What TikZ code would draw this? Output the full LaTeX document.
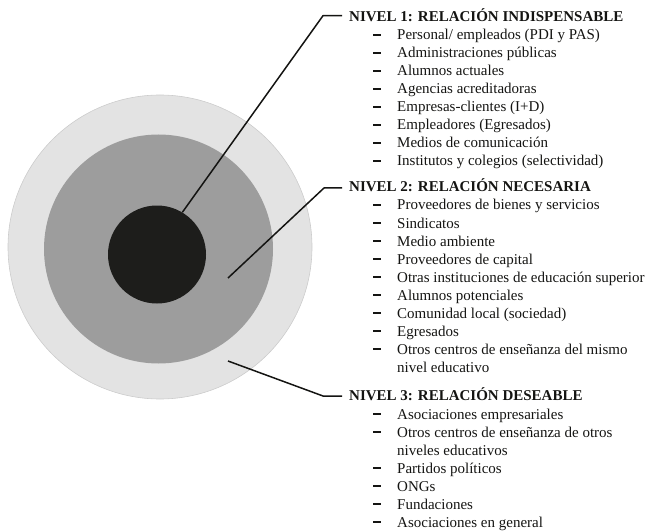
\documentclass[tikz,border=0pt]{standalone}
\usepackage{fontspec}
\setmainfont{Liberation Serif}
\definecolor{ringout}{RGB}{227,227,227}
\definecolor{ringmid}{RGB}{157,157,157}
\definecolor{ringin}{RGB}{29,29,27}
\definecolor{ink}{RGB}{20,20,18}
\tikzset{
  head/.style={anchor=base west,inner sep=0pt,font=\fontsize{15}{18}\selectfont\bfseries,text=ink},
  itemtext/.style={anchor=base west,inner sep=0pt,font=\fontsize{15}{18}\selectfont,text=ink},
  dashmark/.style={anchor=base west,inner sep=0pt,font=\fontsize{15}{18}\selectfont,text=ink},
  leader/.style={draw=ink,line width=1.5pt,line join=round},
  disc/.style={circle,inner sep=0pt,draw=none}
}
\newcommand{\itemdash}{\rule[4pt]{7.3pt}{2pt}}
\begin{document}
\begin{tikzpicture}[x=1pt,y=-1pt]
\useasboundingbox (0,0) rectangle (659,532);
% circles
\node[disc,fill=ringout,draw=black!20,line width=0.6pt,minimum size=304pt] (outer) at (160,247) {};
\node[disc,fill=ringmid,minimum size=229pt] (middle) at (158.5,249) {};
\node[disc,fill=ringin,minimum size=98pt] (inner) at (157,254.5) {};
% anchors of leaders
\coordinate (p2) at (228,278);
\coordinate (p3) at (228,361);
\coordinate (k1) at (323,15.7);
\coordinate (k2) at (324,188);
\coordinate (k3) at (323,396);
% headings
\node[head] (h1) at (349,21.3) {NIVEL 1: RELACIÓN INDISPENSABLE};
\node[head] (h2) at (349,192) {NIVEL 2: RELACIÓN NECESARIA};
\node[head] (h3) at (349,400.5) {NIVEL 3: RELACIÓN DESEABLE};
% leaders
\draw[leader] (inner.59) -- (k1) -- ([xshift=-7pt]h1.west |- k1);
\draw[leader] (p2) -- (k2) -- ([xshift=-7pt]h2.west |- k2);
\draw[leader] (p3) -- (k3) -- ([xshift=-7pt]h3.west |- k3);
% level 1 items
\foreach \t [count=\i] in {Personal/ empleados (PDI y PAS),Administraciones públicas,Alumnos actuales,Agencias acreditadoras,Empresas-clientes (I+D),Empleadores (Egresados),Medios de comunicación,Institutos y colegios (selectividad)}{
  \node[dashmark] (d1\i) at (373,{40+18*(\i-1)}) {\itemdash};
  \node[itemtext] (t1\i) at (397,{40+18*(\i-1)}) {\t};
}
% level 2 items
\foreach \t/\r [count=\i] in {Proveedores de bienes y servicios/0,Sindicatos/1,Medio ambiente/2,Proveedores de capital/3,Otras instituciones de educación superior/4,Alumnos potenciales/5,Comunidad local (sociedad)/6,Egresados/7,Otros centros de enseñanza del mismo/8}{
  \node[dashmark] (d2\i) at (373,{210+18*\r}) {\itemdash};
  \node[itemtext] (t2\i) at (397,{210+18*\r}) {\t};
}
\node[itemtext] (t2c) at (397,{210+18*9}) {nivel educativo};
% level 3 items
\foreach \t/\r [count=\i] in {Asociaciones empresariales/0,Otros centros de enseñanza de otros/1,Partidos políticos/3,ONGs/4,Fundaciones/5,Asociaciones en general/6}{
  \node[dashmark] (d3\i) at (373,{419+18*\r}) {\itemdash};
  \node[itemtext] (t3\i) at (397,{419+18*\r}) {\t};
}
\node[itemtext] (t3c) at (397,{419+18*2}) {niveles educativos};
\end{tikzpicture}
\end{document}
